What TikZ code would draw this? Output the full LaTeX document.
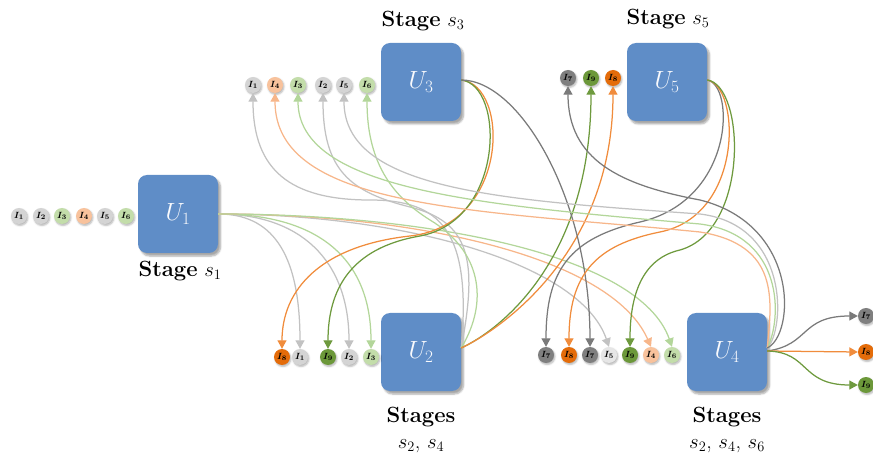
\documentclass[tikz,border=0pt]{standalone}
\usepackage{bm}
\usetikzlibrary{arrows.meta,shadows.blur}

\definecolor{boxblue}{HTML}{5F8DC7}
\definecolor{lgrayL}{HTML}{C2C2C2}\definecolor{lgrayF}{HTML}{D4D4D4}
\definecolor{lgreenL}{HTML}{B3D69A}\definecolor{lgreenF}{HTML}{C3DDAA}
\definecolor{loranL}{HTML}{F7B68A}\definecolor{loranF}{HTML}{F8C29C}
\definecolor{dgrayL}{HTML}{7A7A7A}\definecolor{dgrayF}{HTML}{7F7F7F}
\definecolor{doranL}{HTML}{F08C3C}\definecolor{doranF}{HTML}{E46C0A}
\definecolor{dgreenL}{HTML}{6E9A3E}\definecolor{dgreenF}{HTML}{6C983A}
\definecolor{paleF}{HTML}{E6E6E6}

\tikzset{
  unit/.style={rounded corners=9pt, fill=boxblue, minimum width=80pt,
    minimum height=78pt, inner sep=0pt, text=white!96!boxblue,
    font=\fontsize{25}{25}\selectfont,
    blur shadow={shadow xshift=2.5pt, shadow yshift=-3pt, shadow opacity=35, shadow blur steps=6}},
  tok/.style={circle, minimum size=16pt, inner sep=0pt,
    font=\fontsize{9.5}{9.5}\selectfont,
    blur shadow={shadow xshift=1pt, shadow yshift=-1.5pt, shadow opacity=30, shadow blur steps=4}},
  tLG/.style={tok, fill=lgrayF},  tLN/.style={tok, fill=lgreenF},
  tLO/.style={tok, fill=loranF},  tDG/.style={tok, fill=dgrayF},
  tDO/.style={tok, fill=doranF},  tDN/.style={tok, fill=dgreenF},
  tPL/.style={tok, fill=paleF},
  link/.style={line width=1.25pt, -{Triangle[length=8.5pt,width=9pt]}},
  cLG/.style={link, lgrayL}, cLN/.style={link, lgreenL}, cLO/.style={link, loranL},
  cDG/.style={link, dgrayL}, cDO/.style={link, doranL}, cDN/.style={link, dgreenL},
  caption/.style={font=\fontsize{22}{26}\selectfont, align=center, text=black},
}
\newcommand{\tk}[1]{$\bm{I}_{\bm{#1}}$}

\begin{document}
\begin{tikzpicture}[x=1pt,y=-1pt]
\useasboundingbox (0,0) rectangle (873,462);

% processing units
\node[unit] (u1) at (178,214) {$U_1$};
\node[unit] (u3) at (421,82)  {$U_3$};
\node[unit] (u5) at (667,82)  {$U_5$};
\node[unit] (u2) at (421,352) {$U_2$};
\node[unit] (u4) at (727,352) {$U_4$};

% stage captions
\node[caption] (l1) at (180,271) {\textbf{Stage} $s_1$};
\node[caption] (l3) at (423,21)  {\textbf{Stage} $s_3$};
\node[caption] (l5) at (668,19)  {\textbf{Stage} $s_5$};
\node[caption] (l2) at (421,430) {\textbf{Stages}\\$s_2$, $s_4$};
\node[caption] (l4) at (727,430) {\textbf{Stages}\\$s_2$, $s_4$, $s_6$};

% input items of U1
\node[tLG] (a1) at (19,216)  {\tk1};
\node[tLG] (a2) at (41,216)  {\tk2};
\node[tLN] (a3) at (62,216)  {\tk3};
\node[tLO] (a4) at (84,216)  {\tk4};
\node[tLG] (a5) at (105,216) {\tk5};
\node[tLN] (a6) at (126,216) {\tk6};

% input items of U3
\node[tLG] (b1) at (253,85) {\tk1};
\node[tLO] (b4) at (275,85) {\tk4};
\node[tLN] (b3) at (298,85) {\tk3};
\node[tLG] (b2) at (323,85) {\tk2};
\node[tLG] (b5) at (344,85) {\tk5};
\node[tLN] (b6) at (367,85) {\tk6};

% input items of U5
\node[tDG] (c7) at (568,78) {\tk7};
\node[tDN] (c9) at (591,78) {\tk9};
\node[tDO] (c8) at (613,78) {\tk8};

% input items of U2
\node[tDO] (d8) at (282,357) {\tk8};
\node[tLG] (d1) at (300,357) {\tk1};
\node[tDN] (d9) at (328,357) {\tk9};
\node[tLG] (d2) at (349,357) {\tk2};
\node[tLN] (d3) at (371,357) {\tk3};

% input items of U4
\node[tDG] (e1) at (546,355) {\tk7};
\node[tDO] (e2) at (569,355) {\tk8};
\node[tDG] (e3) at (590,355) {\tk7};
\node[tPL] (e4) at (609,355) {\tk5};
\node[tDN] (e5) at (630,355) {\tk9};
\node[tLO] (e6) at (651,355) {\tk4};
\node[tLN] (e7) at (672,355) {\tk6};

% final outputs
\node[tDG] (f7) at (866,316) {\tk7};
\node[tDO] (f8) at (866,352) {\tk8};
\node[tDN] (f9) at (866,385) {\tk9};

% ports where the connectors leave the units
\coordinate (o1) at (u1.east);
\coordinate (o2) at ([yshift=4pt]u2.east);
\coordinate (o3) at ([yshift=2pt]u3.east);
\coordinate (o5) at ([yshift=2pt]u5.east);
\coordinate (o4) at ([yshift=4pt]u4.east);
\coordinate (o4r) at ([yshift=1pt]u4.east);

% U1 -> U2 and U4
\draw[cLG] (o1) .. controls (270,214) and (300,250) .. (d1.north);
\draw[cLG] (o1) .. controls (300,214) and (349,260) .. (d2.north);
\draw[cLN] (o1) .. controls (320,214) and (371,260) .. (d3.north);
\draw[cLG] (o1) .. controls (400,214) and (580,262) .. (e4.north);
\draw[cLO] (o1) .. controls (420,214) and (612,258) .. (e6.north);
\draw[cLN] (o1) .. controls (430,214) and (640,255) .. (e7.north);

% U2 -> U3 and U5
\draw[cLG] (o2) .. controls (472,230) and (440,200) .. (370,200)
               .. controls (290,200) and (253,170) .. (b1.south);
\draw[cLG] (o2) .. controls (478,260) and (470,222) .. (410,207)
               .. controls (350,192) and (323,170) .. (b2.south);
\draw[cLN] (o2) .. controls (490,300) and (480,250) .. (430,220)
               .. controls (390,195) and (367,160) .. (b6.south);
\draw[cDN] (o2) .. controls (500,330) and (591,260) .. (c9.south);
\draw[cDO] (o2) .. controls (490,335) and (613,260) .. (c8.south);

% U3 -> U2 and U4
\draw[cDO] (o3) .. controls (510,85) and (510,225) .. (410,236)
               .. controls (320,246) and (282,290) .. (d8.north);
\draw[cDN] (o3) .. controls (505,85) and (505,220) .. (420,236)
               .. controls (350,248) and (328,290) .. (d9.north);
\draw[cDG] (o3) .. controls (520,80) and (590,200) .. (e3.north);

% U5 -> U4
\draw[cDG] (o5) .. controls (735,85) and (735,200) .. (640,222)
               .. controls (570,238) and (546,270) .. (e1.north);
\draw[cDO] (o5) .. controls (740,85) and (745,215) .. (660,232)
               .. controls (595,245) and (569,275) .. (e2.north);
\draw[cDN] (o5) .. controls (745,85) and (750,230) .. (680,250)
               .. controls (645,258) and (630,290) .. (e5.north);

% U4 -> U3, U5 and the final outputs
\draw[cLG] (o4) .. controls (785,330) and (790,225) .. (700,214)
               .. controls (500,200) and (344,190) .. (b5.south);
\draw[cLN] (o4) .. controls (782,320) and (785,235) .. (700,224)
               .. controls (480,205) and (298,190) .. (b3.south);
\draw[cLO] (o4) .. controls (772,300) and (780,245) .. (700,232)
               .. controls (480,210) and (275,210) .. (b4.south);
\draw[cDG] (o4) .. controls (795,335) and (800,225) .. (700,200)
               .. controls (620,185) and (568,160) .. (c7.south);
\draw[cDG] (o4r) .. controls (810,345) and (800,316) .. (f7.west);
\draw[cDO] (o4r) -- (f8.west);
\draw[cDN] (o4r) .. controls (810,352) and (800,385) .. (f9.west);
\end{tikzpicture}
\end{document}
